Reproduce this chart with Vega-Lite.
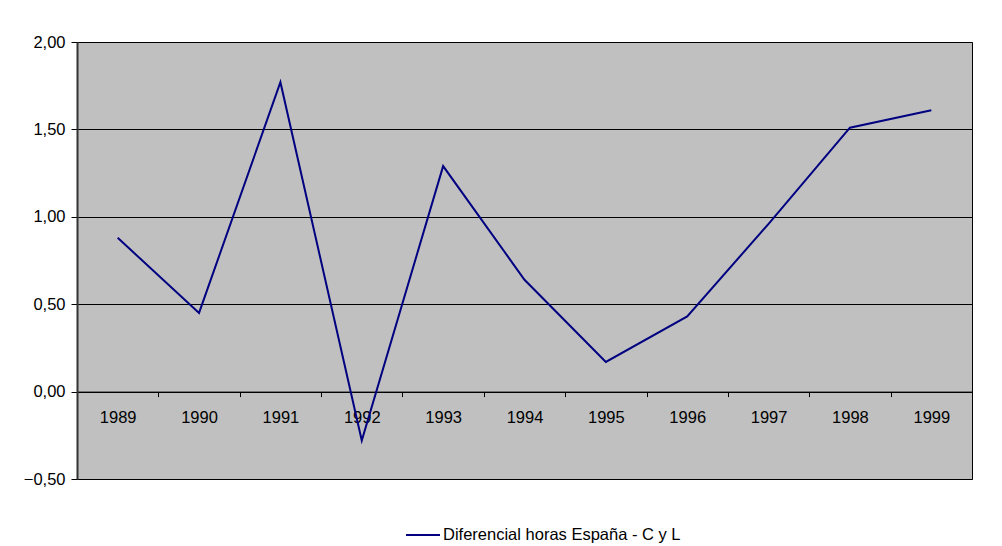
{
  "$schema": "https://vega.github.io/schema/vega-lite/v6.json",
  "autosize": "none",
  "width": 895,
  "height": 437,
  "padding": {"left": 77, "top": 42, "right": 30, "bottom": 67},
  "background": "white",
  "data": {
    "values": [
      {"year": "1989", "value": 0.88, "serie": "Diferencial horas España - C y L"},
      {"year": "1990", "value": 0.45, "serie": "Diferencial horas España - C y L"},
      {"year": "1991", "value": 1.77, "serie": "Diferencial horas España - C y L"},
      {"year": "1992", "value": -0.28, "serie": "Diferencial horas España - C y L"},
      {"year": "1993", "value": 1.29, "serie": "Diferencial horas España - C y L"},
      {"year": "1994", "value": 0.64, "serie": "Diferencial horas España - C y L"},
      {"year": "1995", "value": 0.17, "serie": "Diferencial horas España - C y L"},
      {"year": "1996", "value": 0.43, "serie": "Diferencial horas España - C y L"},
      {"year": "1997", "value": 0.96, "serie": "Diferencial horas España - C y L"},
      {"year": "1998", "value": 1.51, "serie": "Diferencial horas España - C y L"},
      {"year": "1999", "value": 1.61, "serie": "Diferencial horas España - C y L"}
    ]
  },
  "mark": {"type": "line", "strokeWidth": 2},
  "encoding": {
    "x": {
      "field": "year",
      "type": "ordinal",
      "scale": {"type": "band", "paddingInner": 0, "paddingOuter": 0},
      "axis": {
        "title": null,
        "labelAngle": 0,
        "offset": -87.4,
        "tickBand": "extent",
        "tickSize": 5,
        "tickColor": "#000",
        "domainColor": "#000",
        "domainWidth": 1,
        "labelPadding": 13,
        "labelFontSize": 16.5,
        "labelFont": "Liberation Sans",
        "labelColor": "#000",
        "grid": false
      }
    },
    "y": {
      "field": "value",
      "type": "quantitative",
      "scale": {"domain": [-0.5, 2], "nice": false, "zero": false},
      "axis": {
        "title": null,
        "values": [-0.5, 0, 0.5, 1, 1.5, 2],
        "labelExpr": "replace(format(datum.value, '.2f'), '.', ',')",
        "tickSize": 6,
        "tickColor": "#000",
        "domainColor": "#333",
        "domainWidth": 2,
        "labelPadding": 6,
        "labelFontSize": 16.5,
        "labelFont": "Liberation Sans",
        "labelColor": "#000",
        "grid": true,
        "gridColor": "#000",
        "gridWidth": 1,
        "gridOpacity": 1
      }
    },
    "color": {
      "field": "serie",
      "type": "nominal",
      "scale": {"range": ["#000080"]},
      "legend": {
        "title": null,
        "orient": "none",
        "legendX": 328,
        "legendY": 475,
        "padding": 0,
        "symbolType": "stroke",
        "symbolSize": 1156,
        "symbolStrokeWidth": 2,
        "labelFontSize": 16.5,
        "labelFont": "Liberation Sans",
        "labelColor": "#000",
        "labelOffset": 2,
        "labelLimit": 0
      }
    }
  },
  "config": {
    "view": {"fill": "#C0C0C0", "stroke": "#000", "strokeWidth": 1}
  }
}
